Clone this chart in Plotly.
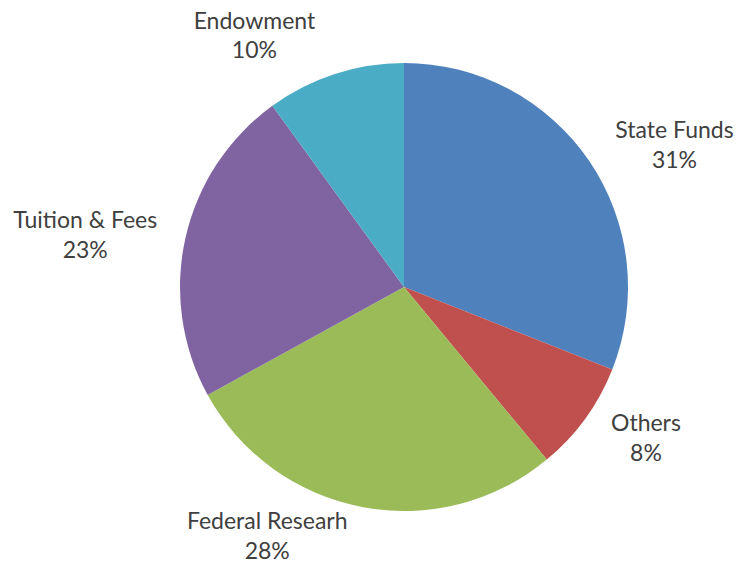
import plotly.graph_objects as go

labels = ["State Funds", "Others", "Federal Researh", "Tuition & Fees", "Endowment"]
values = [31, 8, 28, 23, 10]
colors = ["#4F81BD", "#C0504D", "#9BBB59", "#8064A2", "#4BACC6"]

W, H = 736, 566
cx, cy, r = 404, 287, 224      # pie centre and radius in pixels
r_text = 238                   # radius of the invisible pie carrying most labels

font = dict(family="Lato", size=23, color="#404040")
# Federal label stays on the real pie (bottom room is limited)
near = [lab == "Federal Researh" for lab in labels]

def dom(rad):
    return dict(x=[(cx - rad) / W, (cx + rad) / W],
                y=[(H - cy - rad) / H, (H - cy + rad) / H])

fig = go.Figure()
fig.add_trace(go.Pie(
    labels=labels, values=values, sort=False, direction="clockwise", rotation=0,
    marker=dict(colors=colors, line=dict(width=0)),
    texttemplate="%{label}<br>%{percent:.0%}",
    textposition=["outside" if n else "none" for n in near],
    textfont=font, showlegend=False, domain=dom(r), automargin=False,
))
fig.add_trace(go.Pie(
    labels=labels, values=values, sort=False, direction="clockwise", rotation=0,
    marker=dict(colors=["rgba(0,0,0,0)"] * len(labels), line=dict(width=0)),
    texttemplate="%{label}<br>%{percent:.0%}",
    textposition=["none" if n else "outside" for n in near],
    textfont=font, showlegend=False, domain=dom(r_text), automargin=False,
    hoverinfo="skip",
))
fig.update_layout(
    width=W, height=H,
    margin=dict(l=0, r=0, t=0, b=0),
    paper_bgcolor="white", plot_bgcolor="white",
)
fig.write_html("out.html")
